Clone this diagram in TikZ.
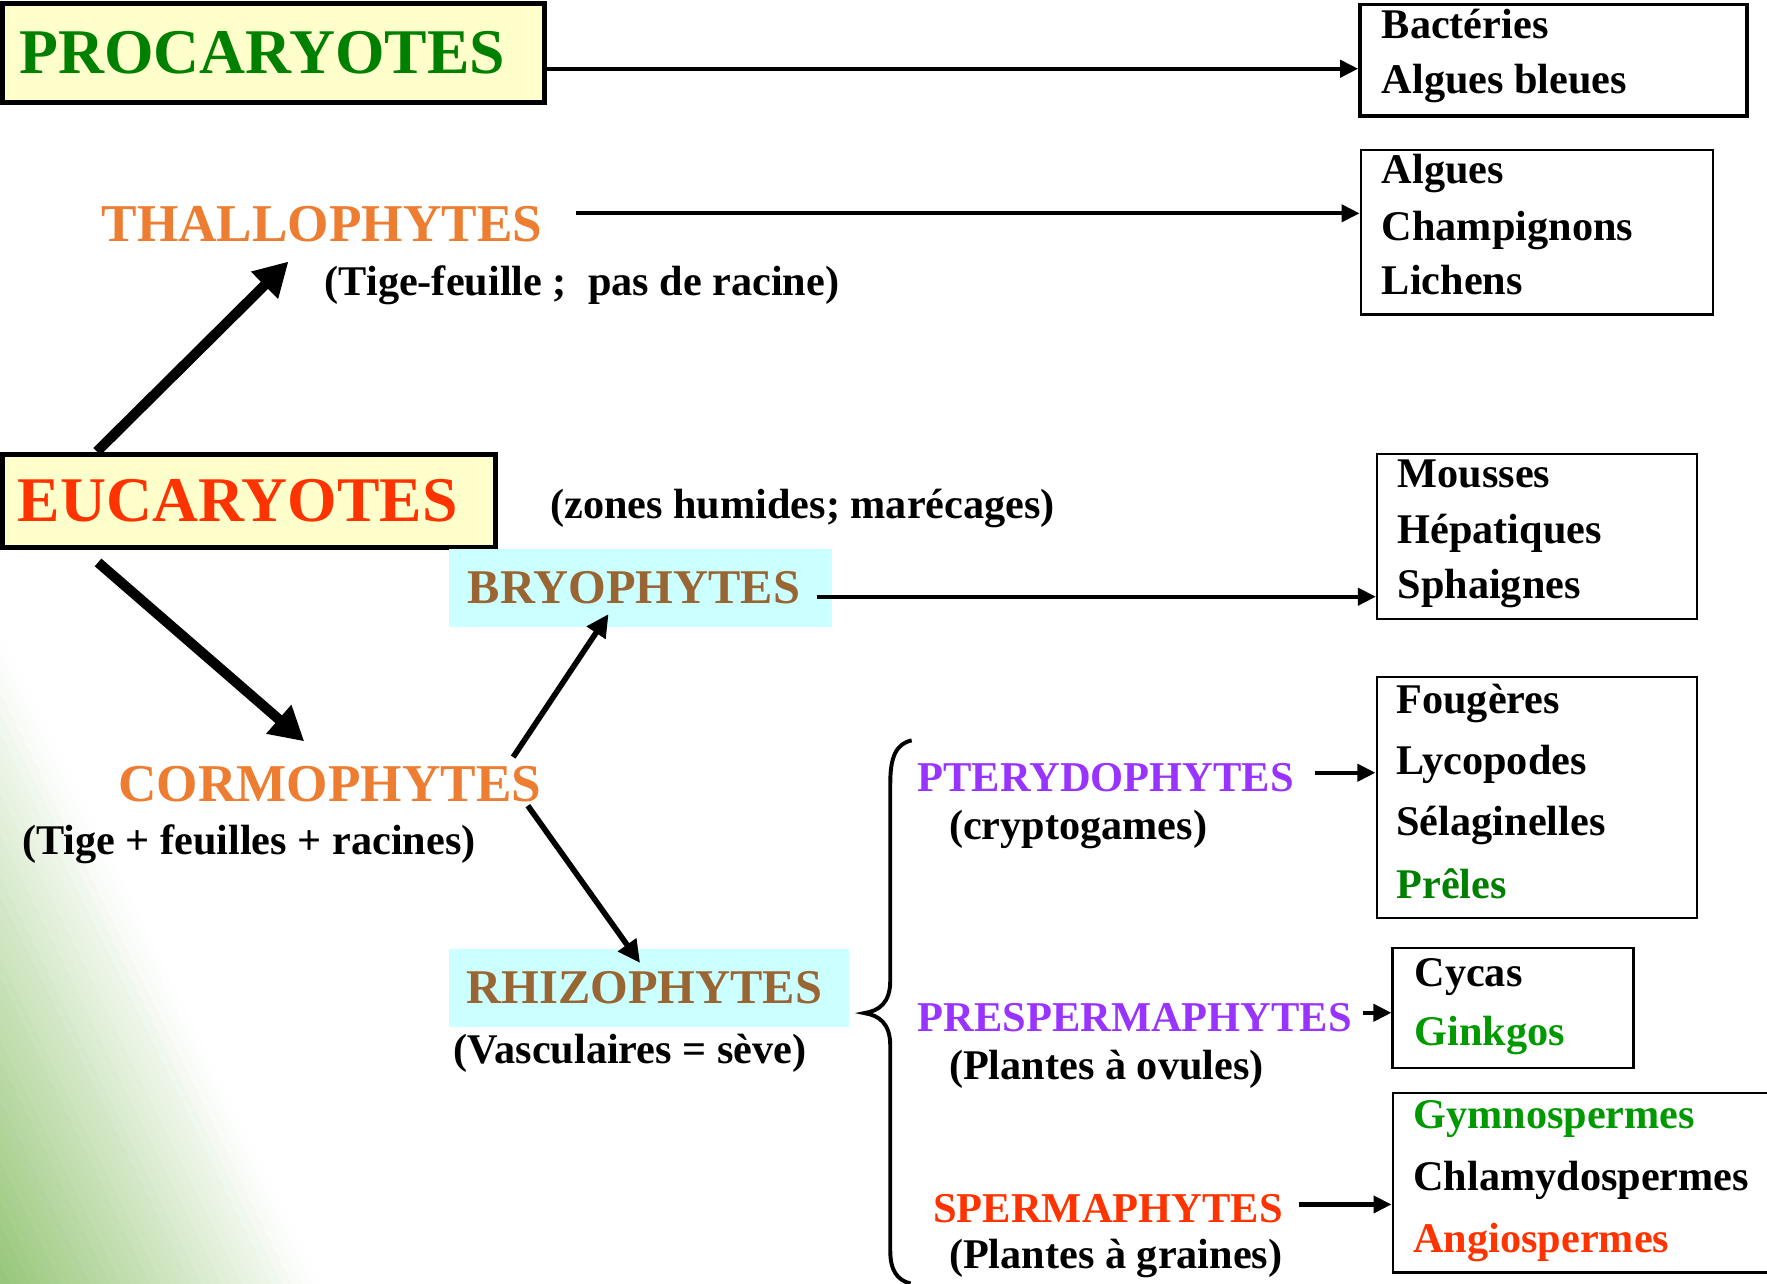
\documentclass[tikz,border=0pt]{standalone}
\usepackage{fontspec}
\setmainfont{Liberation Serif}
\usetikzlibrary{arrows.meta}
\usetikzlibrary{calc}

\definecolor{procgreen}{RGB}{0,128,0}
\definecolor{eucred}{RGB}{255,51,0}
\definecolor{phyorange}{RGB}{237,125,49}
\definecolor{phybrown}{RGB}{153,102,51}
\definecolor{phypurple}{RGB}{153,51,255}
\definecolor{leafgreen}{RGB}{0,153,0}
\definecolor{boxyellow}{RGB}{255,255,204}
\definecolor{boxcyan}{RGB}{204,255,255}
\definecolor{bggreen}{RGB}{150,198,120}

\begin{document}
\begin{tikzpicture}[x=1pt, y=-1pt,
		every node/.style={inner sep=0pt},
		headbox/.style={draw, line width=4.4pt, fill=boxyellow, font=\bfseries\fontsize{56.5}{60}\selectfont},
		phybox/.style={fill=boxcyan, text=phybrown, font=\bfseries\fontsize{43}{48}\selectfont},
		listbox/.style={draw, line width=2pt},
		listtext/.style={anchor=base west, font=\bfseries\fontsize{37.5}{45}\selectfont},
		grouptext/.style={anchor=base west, text=phyorange, font=\bfseries\fontsize{47.2}{52}\selectfont},
		classtext/.style={anchor=base west, font=\bfseries\fontsize{37.7}{44}\selectfont},
		remark/.style={anchor=base west, font=\bfseries\fontsize{37.5}{45}\selectfont},
		bigarrow/.style={line width=9pt, -{Triangle[length=30pt,width=32pt]}},
		midarrow/.style={line width=5pt, -{Triangle[length=20pt,width=19pt]}},
		linkarrow/.style={line width=3.7pt, -{Triangle[length=16pt,width=15pt]}}]
		
		% green corner of the slide
		\begin{scope}
			\clip (0,0) rectangle (1568,1139);
			\begin{scope}[shift={(285,1139)}, rotate=206.2]
				\foreach \t in {0,8,...,264} {
					\pgfmathtruncatemacro\pct{min(100,(\t+4)/2.56)}
					\fill[bggreen!\pct!white] (\t,-900) rectangle (\t+8.5,900);
				}
			\end{scope}
		\end{scope}
		\useasboundingbox (0,0) rectangle (1568,1139);
		
		% the two kingdoms
		\node[headbox, text=procgreen, minimum width=481, minimum height=88] (proc) at (242.8,47) {PROCARYOTES\kern20pt};
		\node[headbox, text=eucred, minimum width=437.6, minimum height=83] (euc) at (221,444.4) {EUCARYOTES\kern20pt};
		
		% boxes on the right
		\node[listbox, line width=3.5pt, minimum width=343, minimum height=99] (bact) at (1378.5,53.5) {};
		\node[listbox, minimum width=312.5, minimum height=146] (alg) at (1363.75,206) {};
		\node[listbox, minimum width=284, minimum height=146] (mous) at (1364,476) {};
		\node[listbox, minimum width=284, minimum height=214] (foug) at (1363.6,707.5) {};
		\node[listbox, minimum width=213.7, minimum height=106.8] (cyc) at (1342.6,894.4) {};
		\node[listbox, minimum width=345, minimum height=159.3] (gym) at (1408.3,1049.6) {};
		
		\node[listtext] (bact1) at (1226,34) {Bactéries};
		\node[listtext] (bact2) at (1226,83) {Algues bleues};
		\node[listtext] (alg1) at (1226,163) {Algues};
		\node[listtext] (alg2) at (1226,213) {Champignons};
		\node[listtext] (alg3) at (1226,261) {Lichens};
		\node[listtext] (mous1) at (1240,433) {Mousses};
		\node[listtext] (mous2) at (1240,482.5) {Hépatiques};
		\node[listtext] (mous3) at (1240,531) {Sphaignes};
		\node[listtext] (foug1) at (1239,633) {Fougères};
		\node[listtext] (foug2) at (1239,687) {Lycopodes};
		\node[listtext] (foug3) at (1239,741) {Sélaginelles};
		\node[listtext, text=procgreen] (foug4) at (1239,797) {Prêles};
		\node[listtext] (cyc1) at (1255,875) {Cycas};
		\node[listtext, text=leafgreen] (cyc2) at (1255,928) {Ginkgos};
		\node[listtext, text=leafgreen] (gym1) at (1254,1001) {Gymnospermes};
		\node[listtext] (gym2) at (1254,1056) {Chlamydospermes};
		\node[listtext, text=eucred] (gym3) at (1254,1111) {Angiospermes};
		
		% groups
		\node[grouptext] (thallo) at (90,214.4) {THALLOPHYTES};
		\node[remark] (thallonote) at (288,262) {(Tige-feuille ;\ \ pas de racine)};
		\node[remark] (zones) at (488,460.5) {(zones humides; marécages)};
		\node[grouptext] (corm) at (105,711.3) {CORMOPHYTES};
		\node[remark] (cormnote) at (19.4,758.7) {(Tige + feuilles + racines)};
		\node[phybox, minimum width=340, minimum height=69] (bryo) at (568.5,521.6) {BRYOPHYTES\kern12pt};
		\node[phybox, minimum width=354.6, minimum height=68.6] (rhizo) at (575.7,876.7) {RHIZOPHYTES\kern8pt};
		\node[remark] (rhizonote) at (402.4,943.5) {(Vasculaires = sève)};
		
		\node[classtext, text=phypurple] (ptery) at (814,702) {PTERYDOPHYTES};
		\node[remark] (pterynote) at (842,745) {(cryptogames)};
		\node[classtext, text=phypurple] (presp) at (814,915) {PRESPERMAPHYTES};
		\node[remark] (prespnote) at (842,957.5) {(Plantes à ovules)};
		\node[classtext, text=eucred] (sperm) at (828,1084.5) {SPERMAPHYTES};
		\node[remark] (spermnote) at (842,1126) {(Plantes à graines)};
		
		% arrows
		\draw[bigarrow] ([xshift=86pt]euc.north west) -- ([xshift=166pt,yshift=-17pt]thallo.south west);
		\draw[bigarrow] ([xshift=87pt,yshift=-11pt]euc.south west) -- ([xshift=165pt,yshift=22pt]corm.north west);
		\draw[midarrow] ([xshift=-25pt,yshift=8pt]corm.north east) -- ([xshift=-28.5pt,yshift=11.4pt]bryo.south);
		\draw[midarrow] ([xshift=-12pt,yshift=-3pt]corm.south east) -- ([xshift=-7.7pt,yshift=-12.4pt]rhizo.north);
		
		\draw[linkarrow] ([yshift=-14pt]proc.east) -- ([yshift=-14pt]proc.east -| bact.west);
		\draw[linkarrow] ([xshift=30pt,yshift=9.7pt]thallo.east) -- ([yshift=9.7pt]thallo.east -| alg.west);
		\draw[linkarrow] ([xshift=-14pt,yshift=-7.9pt]bryo.east) -- ([yshift=-7.9pt]bryo.east -| mous.west);
		\draw[linkarrow] ([xshift=19pt,yshift=4pt]ptery.east) -- ([yshift=4pt]ptery.east -| foug.west);
		\draw[linkarrow] ([xshift=10pt,yshift=4pt]presp.east) -- ([yshift=4pt]presp.east -| cyc.west);
		\draw[linkarrow] ([xshift=14pt,yshift=3.4pt]sperm.east) -- ([yshift=3.4pt]sperm.east -| gym.west);
		
		% brace round the rhizophytes
		\draw[line width=3.5pt] (809,657) .. controls (795,660) and (790,672) .. (790,695) -- (790,870)
			.. controls (790,890) and (780,897) .. (767,899) .. controls (780,901) and (790,908) .. (790,928)
			-- (790,1110) .. controls (790,1127) and (796,1136) .. (808,1139);
	\end{tikzpicture}
\end{document}
